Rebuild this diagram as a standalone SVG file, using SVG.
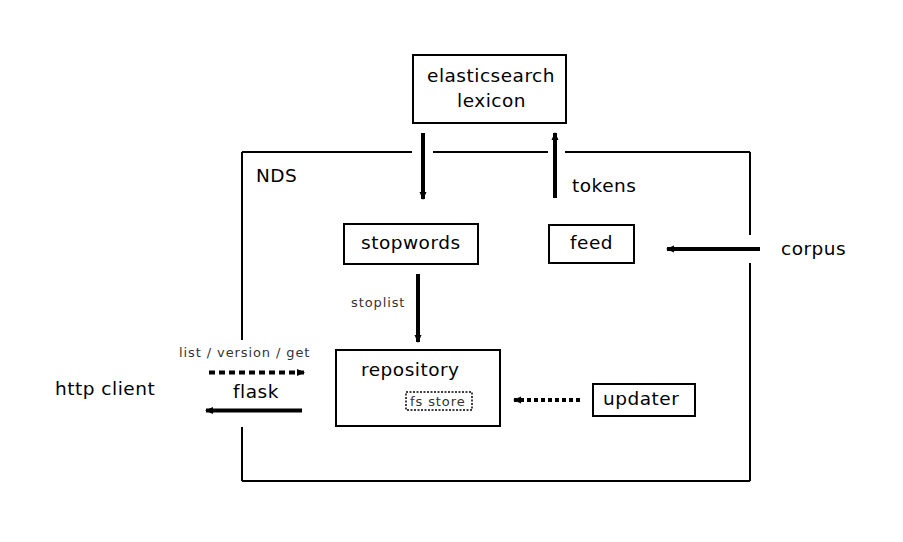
<svg xmlns="http://www.w3.org/2000/svg" width="903" height="542" viewBox="0 0 903 542">
<style>
  .box { fill: #fff; stroke: #000; stroke-width: 2; }
  .t { font-family: "DejaVu Sans", sans-serif; font-size: 18.5px; letter-spacing: 0.5px; fill: #000; }
  .s { font-family: "DejaVu Sans", sans-serif; font-size: 13px; letter-spacing: 0.9px; fill: #333; }
  .arr { fill: none; stroke: #000; stroke-width: 4; }
  .frame { fill: none; stroke: #000; stroke-width: 2; }
</style>
<defs>
  <marker id="ah" markerUnits="userSpaceOnUse" markerWidth="10" markerHeight="10" viewBox="0 0 10 10" refX="8" refY="5" orient="auto">
    <path d="M1,1.5 L9,5 L1,8.5 Z" fill="#000"/>
  </marker>
</defs>
<rect width="903" height="542" fill="#fff"/>
<g id="nds">
  <path class="frame" d="M242,152 H412 M433,152 H548 M565,152 H750 M750,152 V235 M750,263 V481 M242,481 H750 M242,152 V340 M242,427 V481"/>
  <text class="t" x="256" y="182">NDS</text>
</g>
<g id="elasticsearch">
  <rect class="box" x="413" y="55" width="153" height="68"/>
  <text class="t" x="427" y="82">elasticsearch</text>
  <text class="t" x="457" y="107">lexicon</text>
</g>
<g id="stopwords">
  <rect class="box" x="344" y="224" width="134" height="40"/>
  <text class="t" x="361" y="249">stopwords</text>
</g>
<g id="feed">
  <rect class="box" x="549" y="225" width="85" height="38"/>
  <text class="t" x="570" y="249">feed</text>
</g>
<g id="repository">
  <rect class="box" x="336" y="350" width="164" height="76"/>
  <text class="t" x="361" y="376">repository</text>
  <rect x="406" y="392" width="66" height="18" fill="none" stroke="#000" stroke-width="1.5" stroke-dasharray="2,1.5"/>
  <text class="s" x="410" y="406" fill="#222">fs store</text>
</g>
<g id="updater">
  <rect class="box" x="593" y="384" width="102" height="32"/>
  <text class="t" x="603" y="405">updater</text>
</g>
<g id="corpus">
  <text class="t" x="781" y="255">corpus</text>
</g>
<g id="http-client">
  <text class="t" x="55" y="395">http client</text>
</g>
<g id="connectors">
  <line class="arr" x1="423" y1="133" x2="423" y2="199" marker-end="url(#ah)"/>
  <line class="arr" x1="555" y1="198" x2="555" y2="133" marker-end="url(#ah)"/>
  <text class="t" x="572" y="192">tokens</text>
  <line class="arr" x1="760" y1="249" x2="667" y2="249" marker-end="url(#ah)"/>
  <line class="arr" x1="418" y1="274" x2="418" y2="342" marker-end="url(#ah)"/>
  <text class="s" x="351" y="307">stoplist</text>
  <line class="arr" x1="580" y1="400" x2="514" y2="400" stroke-width="3.5" stroke-dasharray="4,3" marker-end="url(#ah)"/>
  <line class="arr" x1="209" y1="372.5" x2="304" y2="372.5" stroke-dasharray="6,4" marker-end="url(#ah)"/>
  <text class="s" x="179" y="357">list / version / get</text>
  <line class="arr" x1="302" y1="410.5" x2="206" y2="410.5" marker-end="url(#ah)"/>
  <text class="t" x="233" y="398">flask</text>
</g>
</svg>
